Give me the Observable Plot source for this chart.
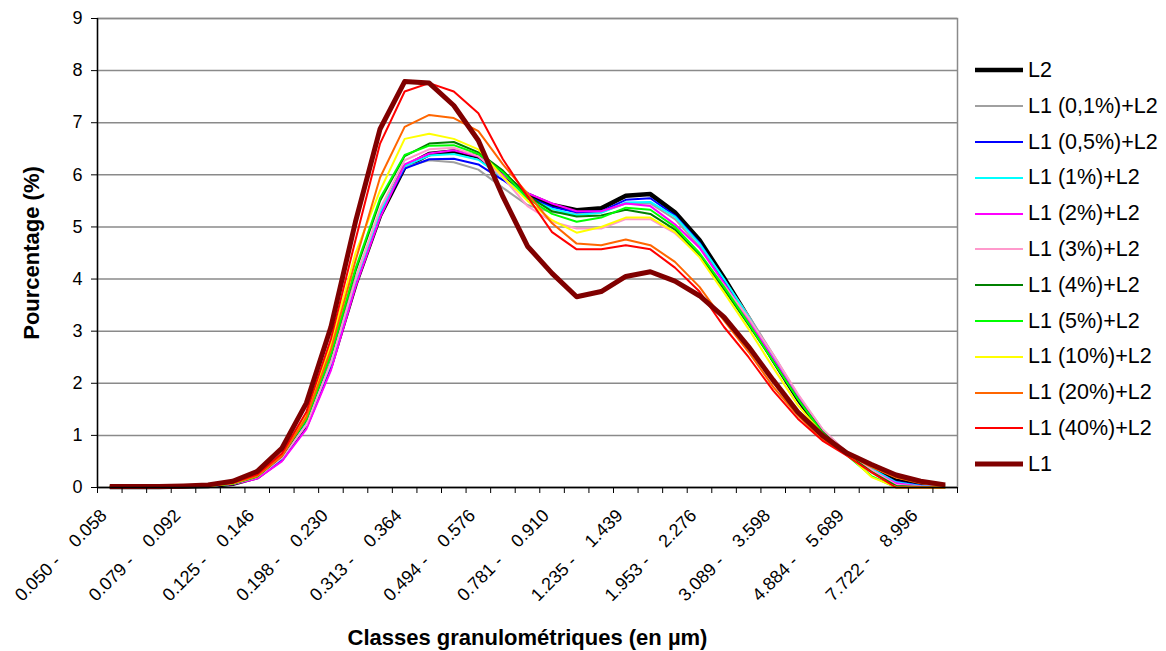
<!DOCTYPE html>
<html><head><meta charset="utf-8">
<script src="https://cdn.jsdelivr.net/npm/d3@7"></script>
<script src="https://cdn.jsdelivr.net/npm/@observablehq/plot@0.6"></script>
<style>
html,body{margin:0;padding:0;background:#fff;}
#wrap{position:relative;width:1166px;height:651px;font-family:"Liberation Sans",Arial,sans-serif;}
#wrap svg{position:absolute;left:0;top:0;font-family:"Liberation Sans",Arial,sans-serif;}
#wrap svg text{white-space:pre;}
#legend{position:absolute;left:975px;top:52.6px;}
.row{display:flex;align-items:center;height:35.8px;font-size:21.5px;color:#000;white-space:pre;}
.row svg{position:static !important;margin-right:5px;}
</style></head><body><div id="wrap"><div id="legend"></div></div>
<script>
const classes = ["0.050 -    0.058","0.058 -    0.068","0.068 -    0.079","0.079 -    0.092","0.092 -    0.107","0.107 -    0.125","0.125 -    0.146","0.146 -    0.170","0.170 -    0.198","0.198 -    0.230","0.230 -    0.268","0.268 -    0.313","0.313 -    0.364","0.364 -    0.424","0.424 -    0.494","0.494 -    0.576","0.576 -    0.671","0.671 -    0.781","0.781 -    0.910","0.910 -    1.060","1.060 -    1.235","1.235 -    1.439","1.439 -    1.677","1.677 -    1.953","1.953 -    2.276","2.276 -    2.651","2.651 -    3.089","3.089 -    3.598","3.598 -    4.192","4.192 -    4.884","4.884 -    5.689","5.689 -    6.628","6.628 -    7.722","7.722 -    8.996","8.996 -  10.480"];
const labelledClasses = [0,3,6,9,12,15,18,21,24,27,30,33];
const yTicks = [0,1,2,3,4,5,6,7,8,9];
const seriesNames = ["L2","L1 (0,1%)+L2","L1 (0,5%)+L2","L1 (1%)+L2","L1 (2%)+L2","L1 (3%)+L2","L1 (4%)+L2","L1 (5%)+L2","L1 (10%)+L2","L1 (20%)+L2","L1 (40%)+L2","L1"];
const seriesColors = ["#000000","#a0a0a0","#0000ff","#00ffff","#ff00ff","#ff99cc","#008000","#00ff00","#ffff00","#ff6600","#ff0000","#800000"];
const seriesWidths = [4.5,2,2,2,2,2,2,2,2,2,2,5];

const L2       = [0.01,0.01,0.01,0.02,0.03,0.07,0.20,0.55,1.20,2.35,3.90,5.22,6.15,6.40,6.45,6.35,6.00,5.62,5.42,5.32,5.36,5.60,5.63,5.28,4.75,4.02,3.25,2.45,1.70,1.05,0.65,0.36,0.13,0.05,0.02];
const L1_0_1   = [0.01,0.01,0.01,0.02,0.03,0.07,0.20,0.56,1.22,2.40,4.00,5.30,6.15,6.28,6.24,6.10,5.75,5.42,5.28,5.25,5.28,5.45,5.45,5.15,4.62,3.98,3.30,2.55,1.78,1.12,0.66,0.34,0.10,0.03,0.01];
const L1_0_5   = [0.01,0.01,0.01,0.02,0.03,0.07,0.20,0.55,1.20,2.35,3.95,5.25,6.12,6.30,6.31,6.20,5.90,5.58,5.38,5.28,5.30,5.52,5.55,5.22,4.70,3.98,3.25,2.48,1.72,1.07,0.64,0.35,0.11,0.04,0.01];
const L1_1     = [0.01,0.01,0.01,0.02,0.03,0.07,0.20,0.56,1.22,2.38,3.95,5.28,6.17,6.37,6.40,6.29,5.95,5.55,5.35,5.23,5.27,5.47,5.48,5.20,4.68,4.00,3.27,2.50,1.74,1.08,0.65,0.36,0.10,0.03,0.01];
const L1_2     = [0.01,0.01,0.01,0.02,0.03,0.06,0.17,0.50,1.12,2.25,3.85,5.18,6.20,6.41,6.47,6.35,6.00,5.65,5.45,5.30,5.30,5.45,5.40,5.05,4.60,3.92,3.20,2.47,1.73,1.08,0.65,0.33,0.08,0.02,0.01];
const L1_3     = [0.01,0.01,0.01,0.02,0.03,0.07,0.20,0.57,1.20,2.40,4.00,5.35,6.28,6.49,6.52,6.36,5.95,5.40,5.10,4.97,4.97,5.15,5.15,4.88,4.45,3.88,3.25,2.55,1.80,1.12,0.67,0.34,0.05,0.02,0.01];
const L1_4     = [0.01,0.01,0.01,0.02,0.03,0.07,0.21,0.60,1.30,2.55,4.15,5.50,6.36,6.60,6.63,6.43,6.08,5.60,5.30,5.20,5.22,5.33,5.25,4.95,4.45,3.80,3.12,2.42,1.70,1.07,0.64,0.30,0.03,0.01,0.00];
const L1_5     = [0.01,0.01,0.01,0.02,0.03,0.07,0.21,0.62,1.30,2.55,4.20,5.55,6.38,6.56,6.57,6.40,6.05,5.55,5.25,5.10,5.18,5.37,5.33,5.00,4.50,3.85,3.15,2.42,1.70,1.05,0.62,0.22,0.00,0.00,0.00];
const L1_10    = [0.01,0.01,0.01,0.02,0.03,0.08,0.23,0.62,1.38,2.75,4.50,5.70,6.69,6.79,6.69,6.49,5.96,5.50,5.13,4.89,5.00,5.18,5.18,4.90,4.42,3.74,3.04,2.30,1.58,1.03,0.65,0.20,0.01,0.00,0.00];
const L1_20    = [0.01,0.01,0.01,0.02,0.03,0.08,0.22,0.60,1.35,2.65,4.35,5.95,6.92,7.15,7.09,6.84,6.20,5.64,5.07,4.68,4.65,4.76,4.65,4.33,3.85,3.20,2.60,1.93,1.38,0.93,0.64,0.39,0.19,0.08,0.03];
const L1_40    = [0.01,0.01,0.01,0.02,0.04,0.09,0.25,0.65,1.45,2.85,4.75,6.60,7.60,7.76,7.60,7.18,6.30,5.58,4.90,4.57,4.57,4.65,4.57,4.22,3.76,3.08,2.50,1.86,1.32,0.90,0.61,0.29,0.00,0.00,0.00];
const L1       = [0.02,0.02,0.02,0.03,0.05,0.12,0.31,0.75,1.62,3.08,5.10,6.88,7.79,7.76,7.33,6.66,5.58,4.63,4.11,3.66,3.76,4.05,4.14,3.96,3.68,3.27,2.70,2.06,1.45,1.00,0.66,0.44,0.24,0.12,0.05];

const seriesValues = [L2, L1_0_1, L1_0_5, L1_1, L1_2, L1_3, L1_4, L1_5, L1_10, L1_20, L1_40, L1];
const yTitle = "Pourcentage (%)";
const xTitle = "Classes granulométriques (en µm)";

const boundaries = d3.range(classes.length + 1).map(i => i - 0.5);

const lineMarks = seriesValues.map((vals, s) =>
  Plot.line(vals.map((v, i) => ({i, v})), {
    x: "i", y: "v",
    stroke: seriesColors[s], strokeWidth: seriesWidths[s],
    strokeLinejoin: "round", strokeLinecap: "butt"
  })
);

const chart = Plot.plot({
  width: 1166, height: 651,
  marginLeft: 97, marginRight: 209, marginTop: 18, marginBottom: 164,
  style: {fontFamily: "'Liberation Sans', Arial, sans-serif", background: "transparent"},
  x: {domain: [-0.5, classes.length - 0.5]},
  y: {domain: [0, 9]},
  marks: [
    Plot.gridY({ticks: yTicks, stroke: "#8a8a8a", strokeOpacity: 1, strokeWidth: 1.5}),
    Plot.frame({stroke: "#8a8a8a", strokeWidth: 1.5}),
    ...lineMarks,
    Plot.ruleX([-0.5], {stroke: "#000", strokeWidth: 1.4}),
    Plot.ruleY([0], {stroke: "#000", strokeWidth: 1.4}),
    Plot.axisY({ticks: yTicks, tickSize: 6, tickPadding: 9, fontSize: 18, label: null}),
    Plot.axisX({ticks: boundaries, tickSize: 6, tickFormat: () => "", label: null}),
    Plot.axisX({ticks: labelledClasses, tickSize: 0, tickPadding: 25, tickRotate: -45,
      textAnchor: "end", lineAnchor: "middle", dx: -6,
      tickFormat: i => classes[i], fontSize: 18, label: null}),
    Plot.text([yTitle], {text: d => d, frameAnchor: "left", textAnchor: "middle", lineAnchor: "middle", rotate: -90, dx: -66, fontSize: 22, fontWeight: "bold"}),
    Plot.text([xTitle], {text: d => d, frameAnchor: "bottom", textAnchor: "middle", lineAnchor: "middle", dy: 150, fontSize: 22, fontWeight: "bold"})
  ]
});
document.getElementById("wrap").prepend(chart);

const legend = document.getElementById("legend");
seriesNames.forEach((name, s) => {
  const row = document.createElement("div");
  row.className = "row";
  row.innerHTML = `<svg width="48" height="10"><line x1="0" x2="48" y1="5" y2="5" stroke="${seriesColors[s]}" stroke-width="${seriesWidths[s]}"/></svg><span>${name}</span>`;
  legend.appendChild(row);
});
</script></body></html>
